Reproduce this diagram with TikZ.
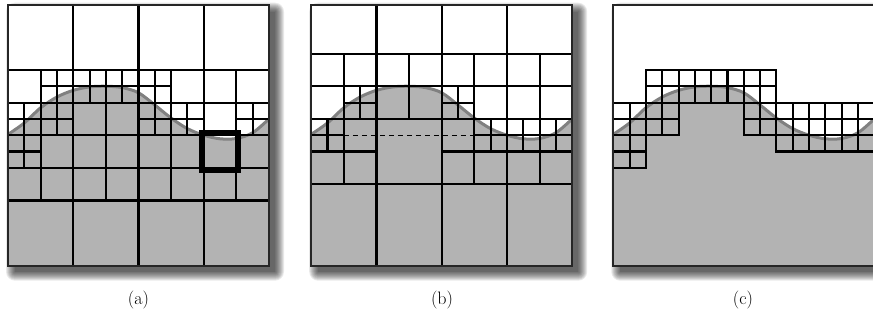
\documentclass[tikz,border=0pt]{standalone}
\usepackage{tikz}
\definecolor{fillgray}{RGB}{179,179,179}
\definecolor{curvegray}{RGB}{128,128,128}
\tikzset{
  cellline/.style={draw=black,line width=2.1pt,line cap=rect},
  dashline/.style={draw=black,line width=1.1pt,dash pattern=on 5pt off 4pt},
  borderline/.style={draw=black!85,line width=2.3pt},
  boldbox/.style={draw=black,line width=5pt,line cap=rect},
  wavestyle/.style={draw=curvegray,line width=3pt},
  lbl/.style={font=\fontsize{18}{21}\selectfont,inner sep=0pt}
}
\newcommand{\wavefill}{%
  \fill[fillgray] (0,16) -- plot[smooth,tension=0.55] coordinates {(0,7.95) (1,7.25) (2,6.32) (3,5.66) (4,5.25) (5,5.04) (6,5.0) (7,5.08) (8,5.4) (9,6.15) (10,6.95) (11,7.6) (12,8.0) (13,8.22) (14,8.2) (15,7.85) (16,7.0)} -- (16,16) -- cycle;
  \draw[wavestyle] plot[smooth,tension=0.55] coordinates {(0,7.95) (1,7.25) (2,6.32) (3,5.66) (4,5.25) (5,5.04) (6,5.0) (7,5.08) (8,5.4) (9,6.15) (10,6.95) (11,7.6) (12,8.0) (13,8.22) (14,8.2) (15,7.85) (16,7.0)};
}
\newcommand{\panelshadow}{%
  \foreach \e in {0,1,...,9} {\fill[black,opacity=0.085,rounded corners=\e pt] (7-\e,7-\e) rectangle (267+\e,267+\e);}
  \fill[white] (0,0) rectangle (261,261);
}
\begin{document}
\begin{tikzpicture}[x=1pt,y=-1pt]
\useasboundingbox (0,0) rectangle (873,326);
% panel (a)
\begin{scope}[shift={(8,4.7)}]
  \panelshadow
  \begin{scope}[x=16.3125pt,y=-16.3125pt]
    \wavefill
    \draw[cellline]
      (0,4)--(16,4) (2,5)--(10,5) (0,6)--(16,6) (0,7)--(4,7) (8,7)--(12,7) (14,7)--(16,7)
      (0,8)--(16,8) (0,9)--(2,9) (0,10)--(16,10) (0,12)--(16,12)
      (1,6)--(1,10) (2,4)--(2,12) (3,4)--(3,8) (4,0)--(4,16) (5,4)--(5,6) (6,4)--(6,12)
      (7,4)--(7,6) (8,0)--(8,16) (9,4)--(9,8) (10,4)--(10,12) (11,6)--(11,8) (12,0)--(12,16)
      (14,4)--(14,12) (15,6)--(15,8);
    \draw[boldbox] ([xshift=-2.3pt,yshift=2.3pt]12,8) rectangle ([xshift=2.3pt,yshift=-2.3pt]14,10);
    \draw[borderline] (0,0) rectangle (16,16);
  \end{scope}
\end{scope}
\node[lbl] (la) at (138.5,300) {(a)};
% panel (b)
\begin{scope}[shift={(311.2,4.7)}]
  \panelshadow
  \begin{scope}[x=16.3125pt,y=-16.3125pt]
    \wavefill
    \draw[cellline]
      (0,3)--(16,3) (0,5)--(16,5) (2,6)--(4,6) (8,6)--(10,6) (0,7)--(16,7)
      (0,8)--(2,8) (10,8)--(16,8) (0,9)--(4,9) (8,9)--(16,9) (0,11)--(16,11)
      (1,7)--(1,9) (2,3)--(2,11) (3,5)--(3,7) (4,0)--(4,16) (6,3)--(6,7) (8,0)--(8,16)
      (9,5)--(9,7) (10,3)--(10,11) (11,7)--(11,9) (12,0)--(12,16) (13,7)--(13,9)
      (14,3)--(14,11) (15,7)--(15,9);
    \draw[dashline] (2,8)--(10,8);
    \draw[borderline] (0,0) rectangle (16,16);
  \end{scope}
\end{scope}
\node[lbl] (lb) at (442,300) {(b)};
% panel (c)
\begin{scope}[shift={(613.3,4.7)}]
  \panelshadow
  \begin{scope}[x=16.3125pt,y=-16.3125pt]
    \wavefill
    \draw[cellline]
      (2,4)--(10,4) (2,5)--(10,5) (0,6)--(16,6) (0,7)--(4,7) (8,7)--(16,7)
      (0,8)--(4,8) (8,8)--(16,8) (0,9)--(2,9) (10,9)--(16,9) (0,10)--(2,10)
      (1,6)--(1,10) (2,4)--(2,10) (3,4)--(3,8) (4,4)--(4,8) (5,4)--(5,6) (6,4)--(6,6)
      (7,4)--(7,6) (8,4)--(8,8) (9,4)--(9,8) (10,4)--(10,9) (11,6)--(11,9) (12,6)--(12,9)
      (13,6)--(13,9) (14,6)--(14,9) (15,6)--(15,9);
    \draw[borderline] (0,0) rectangle (16,16);
  \end{scope}
\end{scope}
\node[lbl] (lc) at (743,300) {(c)};
\end{tikzpicture}
\end{document}
